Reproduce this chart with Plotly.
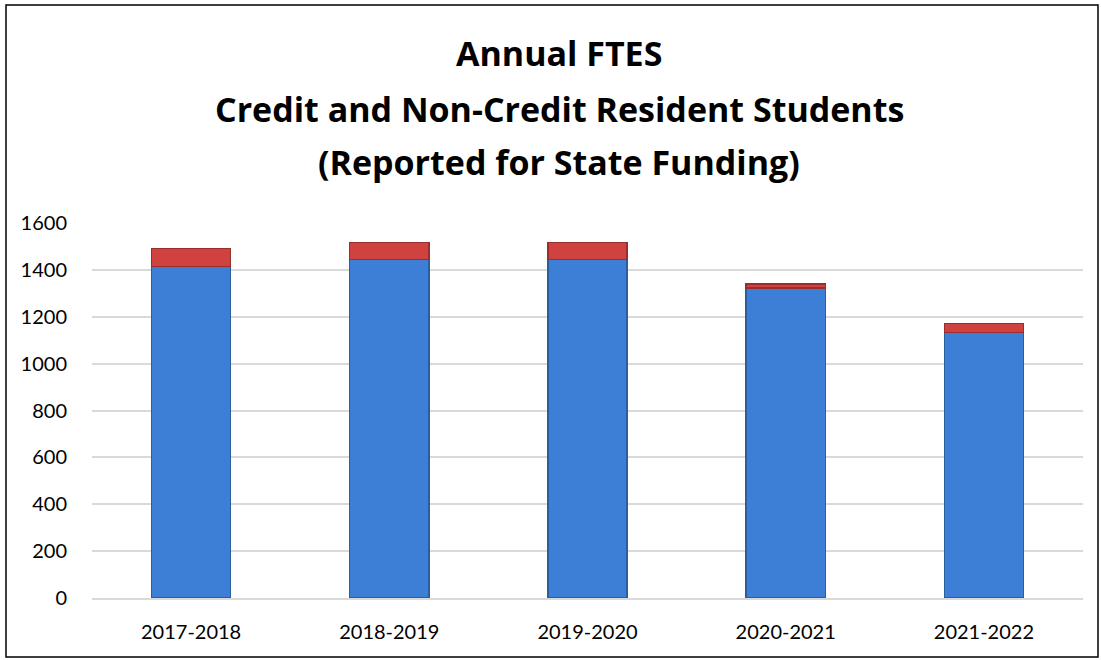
import plotly.graph_objects as go

years = ["2017-2018", "2018-2019", "2019-2020", "2020-2021", "2021-2022"]
credit = [1414, 1445, 1445, 1322, 1132]
noncredit = [78, 72, 72, 18, 40]
y_ticks = [0, 200, 400, 600, 800, 1000, 1200, 1400, 1600]
title_lines = ["Annual FTES", "Credit and Non-Credit Resident Students", "(Reported for State Funding)"]

W, H = 1101, 660
L, R, T, B = 92, 18, 223, 62
pw, ph = W - L - R, H - T - B

fig = go.Figure()
fig.add_trace(go.Bar(x=years, y=credit, name="Credit",
                     marker=dict(color="#3D7FD6", line=dict(color="#2B5E9E", width=1.5))))
fig.add_trace(go.Bar(x=years, y=noncredit, name="Non-Credit",
                     marker=dict(color="#D0423F", line=dict(color="#9A2E2C", width=1.5))))

def py(y):
    return (H - B - y) / ph

def px(x):
    return (x - L) / pw

for txt, yc in zip(title_lines, [53, 109, 162]):
    fig.add_annotation(text="<b>" + txt + "</b>", x=px(559), xref="paper", y=py(yc), yref="paper",
                       xanchor="center", yanchor="middle", showarrow=False,
                       font=dict(family="Open Sans", size=34, color="#000000"))

fig.add_shape(type="rect", xref="paper", yref="paper",
              x0=px(6), x1=px(1098), y0=py(657), y1=py(5),
              line=dict(color="#000000", width=1.5), layer="above")

fig.update_layout(
    width=W, height=H, barmode="stack", bargap=0.6,
    margin=dict(l=L, r=R, t=T, b=B),
    plot_bgcolor="white", paper_bgcolor="white", showlegend=False,
    font=dict(family="Lato", size=20, color="#000000"),
)
fig.update_xaxes(showgrid=False, showline=True, linecolor="#D9D9D9", linewidth=1.5, ticks="",
                 ticklen=0, ticklabelstandoff=15)
fig.update_yaxes(range=[0, 1600], tickvals=y_ticks, showgrid=True, gridcolor="#D9D9D9", gridwidth=1.5,
                 zeroline=False, showline=False, ticks="", ticklabelstandoff=24)
fig.write_html("out.html")
